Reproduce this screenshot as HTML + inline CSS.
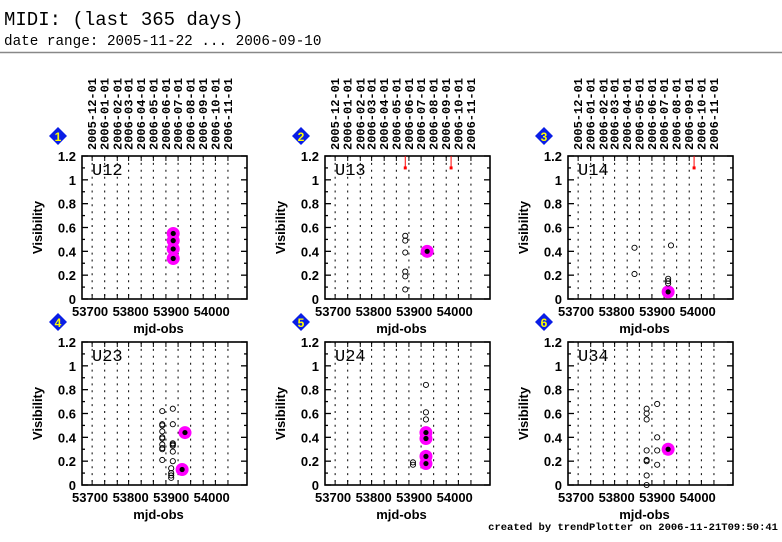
<!DOCTYPE html>
<html><head><meta charset="utf-8">
<style>
body{margin:0;background:#fff;}
svg{display:block;}
.t{font-family:"Liberation Sans",sans-serif;font-weight:bold;fill:#000;}
.m{font-family:"Liberation Mono",monospace;fill:#000;}
</style></head>
<body>
<svg id="c" width="782" height="542" xmlns="http://www.w3.org/2000/svg">
<text class="m" x="4" y="25" font-size="19">MIDI: (last 365 days)</text>
<text class="m" x="4" y="45" font-size="14.3">date range: 2005-11-22 ... 2006-09-10</text>
<line x1="0" y1="52.5" x2="782" y2="52.5" stroke="#888" stroke-width="1.5"/>
<text class="m" x="778" y="530" font-size="10.5" font-weight="bold" text-anchor="end">created by trendPlotter on 2006-11-21T09:50:41</text>
</svg>
<script>
const panelNames = ["U12","U13","U14","U23","U24","U34"];
const monthLabels = ["2005-12-01","2006-01-01","2006-02-01","2006-03-01","2006-04-01","2006-05-01","2006-06-01","2006-07-01","2006-08-01","2006-09-01","2006-10-01","2006-11-01"];
const monthMjd = [53705,53736,53767,53795,53826,53856,53887,53917,53948,53979,54009,54040];
const xTicks = [53700,53800,53900,54000];
const yTicks = [0,0.2,0.4,0.6,0.8,1,1.2];
const yTickLabels = ["0","0.2","0.4","0.6","0.8","1","1.2"];
// open circles: [mjd, vis]
const openPts = [
 [],
 [[53878,0.53],[53878,0.49],[53878,0.39],[53878,0.23],[53878,0.19],[53878,0.08]],
 [[53844,0.43],[53844,0.21],[53934,0.45],[53927,0.17],[53927,0.15],[53927,0.13]],
 [[53878,0.62],[53878,0.51],[53878,0.50],[53878,0.45],[53878,0.40],[53878,0.39],[53878,0.34],[53878,0.31],[53878,0.30],[53878,0.21],[53904,0.64],[53904,0.51],[53904,0.35],[53904,0.34],[53904,0.33],[53904,0.28],[53904,0.20],[53900,0.14],[53900,0.10],[53900,0.08],[53900,0.06]],
 [[53929,0.84],[53929,0.61],[53929,0.55],[53897,0.19],[53897,0.17]],
 [[53874,0.64],[53874,0.60],[53874,0.55],[53874,0.29],[53874,0.21],[53874,0.20],[53874,0.08],[53874,0.0],[53900,0.68],[53900,0.40],[53900,0.29],[53900,0.17]]
];
// highlighted (magenta) points
const hiPts = [
 [[53905,0.55],[53905,0.49],[53905,0.42],[53905,0.34]],
 [[53932,0.40]],
 [[53927,0.06]],
 [[53934,0.44],[53927,0.13]],
 [[53929,0.44],[53929,0.39],[53929,0.24],[53929,0.18]],
 [[53927,0.30]]
];
// out-of-range (red) markers: mjd
const outPts = [[],[53878,53991],[53991],[],[],[]];

const NS="http://www.w3.org/2000/svg";
const svg=document.getElementById('c');
const X0=53680,X1=54087,Y1=1.2,W=165,H=143;
const lefts=[82,325,568],tops=[156,342];
function mk(t,a,p){const e=document.createElementNS(NS,t);for(const k in a)e.setAttribute(k,a[k]);(p||svg).appendChild(e);return e;}
for(let i=0;i<6;i++){
 const L=lefts[i%3],T=tops[Math.floor(i/3)];
 const xs=m=>L+(m-X0)*W/(X1-X0);
 const ys=v=>T+H-v*H/Y1;
 const g=mk('g',{});
 
 
 // grid
 monthMjd.forEach(m=>{const l=mk('line',{x1:xs(m),x2:xs(m),y1:T,y2:T+H,stroke:'#000','stroke-width':1,'stroke-dasharray':'2,4.9'},g);
  
  mk('line',{x1:xs(m),x2:xs(m),y1:T,y2:T+5,stroke:'#000','stroke-width':1},g);
  mk('line',{x1:xs(m),x2:xs(m),y1:T+H,y2:T+H-5,stroke:'#000','stroke-width':1},g);});
 // y ticks
 for(let k=0;k<=12;k++){const v=k/10,len=k%2?3:6;
  mk('line',{x1:L,x2:L+len,y1:ys(v),y2:ys(v),stroke:'#000','stroke-width':1.3},g);
  mk('line',{x1:L+W,x2:L+W-len,y1:ys(v),y2:ys(v),stroke:'#000','stroke-width':1.3},g);}
 yTicks.forEach((v,k)=>{const t=mk('text',{x:L-6,y:ys(v)+5,'font-size':13,'text-anchor':'end',class:'t'},g);t.textContent=yTickLabels[k];
  });
 xTicks.forEach(v=>{const t=mk('text',{x:xs(v),y:T+H+17,'font-size':13,'text-anchor':'middle',class:'t'},g);t.textContent=v;
  });
 mk('rect',{x:L,y:T,width:W,height:H,fill:'none',stroke:'#000','stroke-width':1.6},g);
 const nm=mk('text',{x:L+10,y:T+19,'font-size':17,class:'m'},g);nm.textContent=panelNames[i];
 
 const yl=mk('text',{transform:`translate(${L-40},${T+H/2}) rotate(-90)`,'font-size':13,'text-anchor':'middle',class:'t'},g);yl.textContent='Visibility';
 
 const xl=mk('text',{x:L+W/2-6,y:T+H+34,'font-size':13,'text-anchor':'middle',class:'t'},g);xl.textContent='mjd-obs';
 
 // badge
 const bx=L-24,by=T-20;
 const bd=mk('g',{},g);
 
 mk('polygon',{points:`${bx},${by-9} ${bx+9},${by} ${bx},${by+9} ${bx-9},${by}`,fill:'#0a1ee6'},bd);
 const bt=mk('text',{x:bx,y:by+5,'font-size':12,'text-anchor':'middle',fill:'#ff0',class:'t',style:'fill:#ff0'},bd);bt.textContent=i+1;
 // month labels top row
 if(i<3){monthMjd.forEach((m,k)=>{const t=mk('text',{transform:`translate(${xs(m)+4},${T-6}) rotate(-90)`,'font-size':12,'font-weight':'bold',class:'m'},g);
  t.textContent=monthLabels[k];});}
 // highlights
 hiPts[i].forEach(p=>{const c=mk('circle',{cx:xs(p[0]),cy:ys(p[1]),r:6.5,fill:'#f0f'},g);
  });
 hiPts[i].forEach(p=>{mk('circle',{cx:xs(p[0]),cy:ys(p[1]),r:2.6,fill:'#000'},g);});
 openPts[i].forEach(p=>{const c=mk('circle',{cx:xs(p[0]),cy:ys(p[1]),r:2.6,fill:'none',stroke:'#000','stroke-width':0.9},g);
  });
 outPts[i].forEach(m=>{const l=mk('line',{x1:xs(m),x2:xs(m),y1:T,y2:ys(1.1),stroke:'#f00','stroke-width':1},g);
  
  mk('rect',{x:xs(m)-1.5,y:ys(1.1)-1.5,width:3,height:3,fill:'#f00'},g);});
}
</script>
</body></html>
